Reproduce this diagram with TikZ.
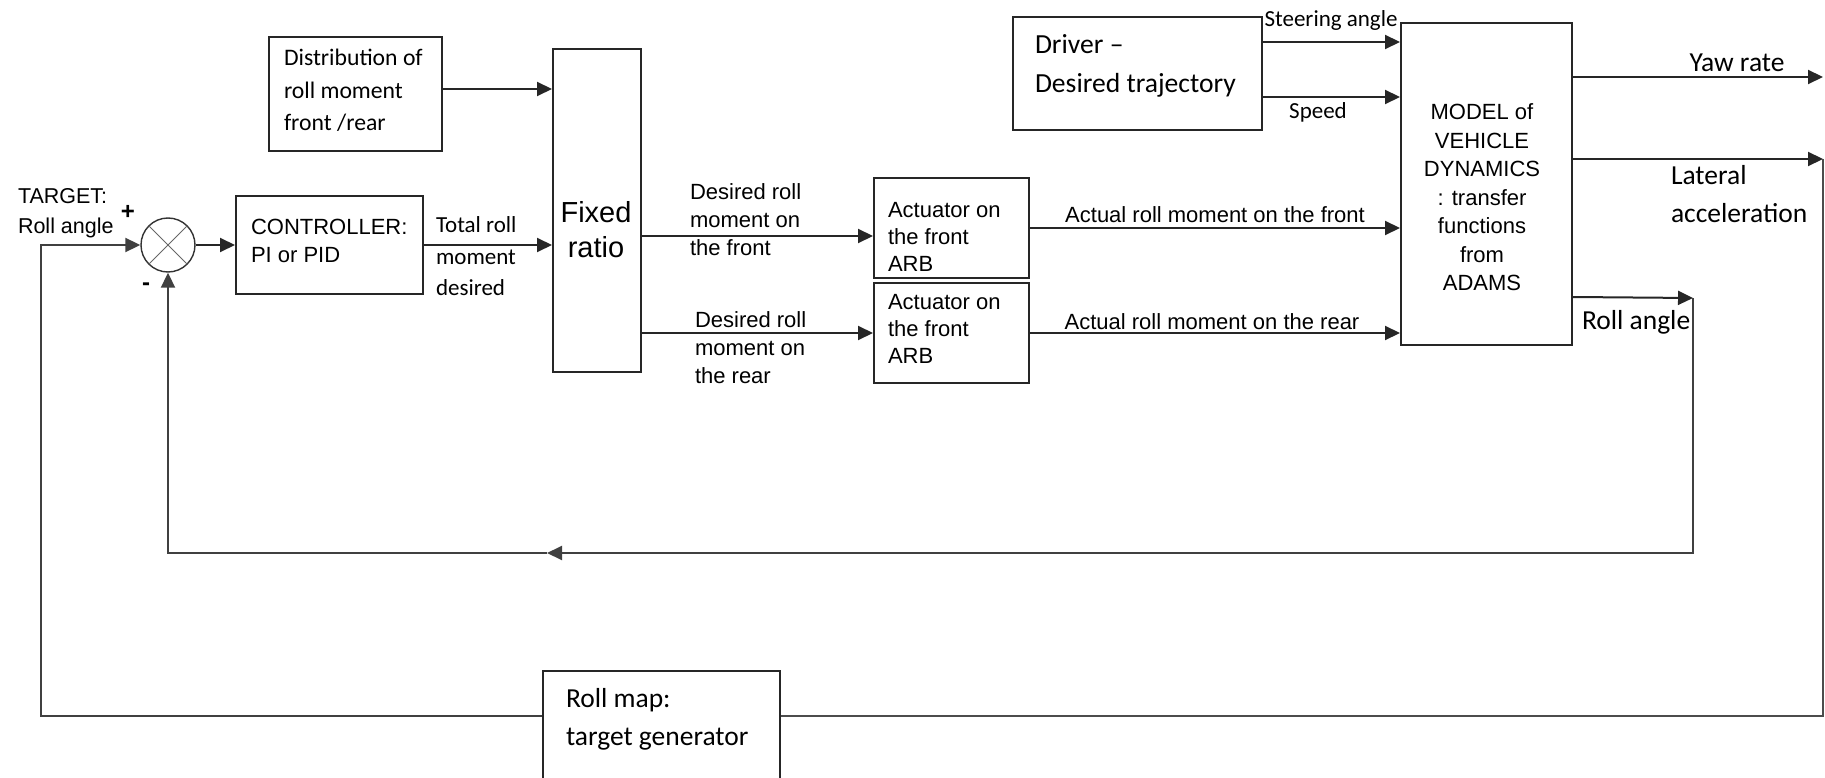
\documentclass[tikz,border=0pt]{standalone}
\usepackage{fontspec}
\setmainfont{Liberation Sans}
\newfontfamily\carlito{Carlito}
\usetikzlibrary{arrows.meta}

\begin{document}
\begin{tikzpicture}[x=1pt, y=-1pt, line width=2pt]
    \tikzstyle{block} = [shape=rectangle, draw=black!85, inner sep=0pt]
    \tikzstyle{txt}   = [align=left, inner sep=0pt, font=\fontsize{22}{28}\selectfont]
    \tikzstyle{ctxt}  = [align=left, inner sep=0pt, font=\carlito\fontsize{27.5}{38}\selectfont]
    \tikzstyle{arr}   = [draw=black!85, -{Triangle[length=15pt,width=14pt]}]
    \tikzstyle{wire}  = [draw=black!70]

    \useasboundingbox (0,0) rectangle (1825,778);

    \node[block, minimum width=173pt, minimum height=114pt] (dist)    at (355.5, 94)   {};
    \node[block, minimum width=187pt, minimum height=98pt]  (ctrl)    at (329.5, 245)  {};
    \node[block, minimum width=88pt,  minimum height=323pt] (fixed)   at (597,   210.5){};
    \node[block, minimum width=155pt, minimum height=100pt] (actf)    at (951.5, 228)  {};
    \node[block, minimum width=155pt, minimum height=100pt] (actr)    at (951.5, 333)  {};
    \node[block, minimum width=249pt, minimum height=113pt] (driver)  at (1137.5,73.5) {};
    \node[block, minimum width=171pt, minimum height=322pt] (model)   at (1486.5,184)  {};
    \node[block, minimum width=237pt, minimum height=119pt] (rollmap) at (661.5, 730.5){};
    \node[shape=circle, draw=black!80, line width=1.4pt, minimum size=54pt, inner sep=0pt] (sum) at (168, 245) {};
        \draw[black!60, line width=1pt] (sum.north west) -- (sum.south east) (sum.north east) -- (sum.south west);

    \node[txt, anchor=west, font=\fontsize{21.5}{30}\selectfont] (target) at (17, 213) {TARGET:\\Roll angle};
    \node[txt, font=\bfseries\fontsize{24}{24}\selectfont] (plus)  at (128, 212) {+};
    \node[txt, font=\bfseries\fontsize{24}{24}\selectfont] (minus) at (146, 287) {-};

    \node[ctxt, anchor=west, font=\carlito\fontsize{23.7}{32.5}\selectfont] (disttxt) at (283, 90.5) {Distribution of\\roll moment\\front /rear};
    \node[txt,  anchor=west] (ctrltxt) at (250, 241) {CONTROLLER:\\PI or PID};
    \node[ctxt, anchor=west, font=\carlito\fontsize{23}{31.5}\selectfont] (totlbl) at (435, 256.5) {Total roll\\moment\\desired};
    \node[txt,  align=center, font=\fontsize{29}{35}\selectfont] (fixedtxt) at (596, 229.5) {Fixed\\ratio};
    \node[txt,  anchor=west] (frontlbl) at (689, 220) {Desired roll\\moment on\\the front};
    \node[txt,  anchor=west] (rearlbl)  at (694, 348) {Desired roll\\moment on\\the rear};
    \node[txt,  anchor=west, font=\fontsize{22}{27}\selectfont] (actftxt) at (887, 237) {Actuator on\\the front\\ARB};
    \node[txt,  anchor=west, font=\fontsize{22}{27}\selectfont] (actrtxt) at (887, 329) {Actuator on\\the front\\ARB};
    \node[txt] (actflbl) at (1215, 215) {Actual roll moment on the front};
    \node[txt] (actrlbl) at (1212, 322) {Actual roll moment on the rear};
    \node[ctxt, anchor=west, font=\carlito\fontsize{27.6}{39}\selectfont] (drvtxt) at (1034, 65.5) {Driver –\\Desired trajectory};
    \node[ctxt, font=\carlito\fontsize{23}{23}\selectfont] (steerlbl) at (1331, 20)  {Steering angle};
    \node[ctxt, font=\carlito\fontsize{23}{23}\selectfont] (speedlbl) at (1318, 112) {Speed};
    \node[txt,  align=center, font=\fontsize{22}{28.5}\selectfont] (modeltxt) at (1482, 197.5) {MODEL of\\VEHICLE\\DYNAMICS\\: transfer\\functions\\from\\ADAMS};
    \node[ctxt] (yawlbl) at (1737, 63) {Yaw rate};
    \node[ctxt, anchor=west] (latlbl)  at (1670, 194) {Lateral\\acceleration};
    \node[ctxt, anchor=west] (rolllbl) at (1581, 322) {Roll angle};
    \node[ctxt, anchor=west] (maptxt)  at (565, 719)  {Roll map:\\target generator};

    \coordinate (distout) at ([yshift=5pt]dist.east);
    \coordinate (actfin)  at ([yshift=-8pt]actf.west);
    \coordinate (steerin) at ([yshift=-20pt]model.north west);
    \coordinate (speedin) at ([yshift=-75pt]model.north west);
    \coordinate (yawout)  at ([yshift=-55pt]model.north east);
    \coordinate (latout)  at ([yshift=-137pt]model.north east);
    \coordinate (rollout) at ([yshift=-275pt]model.north east);
    \coordinate (redge)   at (1823, 0);
    \coordinate (rolltip) at (1693, 298);
    \coordinate (fbr)     at (1693, 553);
    \coordinate (fbm)     at (547,  553);
    \coordinate (lbr)     at (1823, 716);
    \coordinate (lbl)     at (41,   716);

    \draw[arr] (distout) -- (distout -| fixed.west);
    \draw[arr] (sum.east) -- (ctrl.west);
    \draw[arr] (ctrl.east) -- (ctrl.east -| fixed.west);
    \draw[arr] (fixed.east |- actfin) -- (actfin);
    \draw[arr] (fixed.east |- actr.west) -- (actr.west);
    \draw[arr] (actf.east) -- (actf.east -| model.west);
    \draw[arr] (actr.east) -- (actr.east -| model.west);
    \draw[arr] (driver.east |- steerin) -- (steerin);
    \draw[arr] (driver.east |- speedin) -- (speedin);
    \draw[arr] (yawout) -- (yawout -| redge);
    \draw[arr] (latout) -- (latout -| redge);
    \draw[arr] (rollout) -- (rolltip);

    \draw[arr, draw=black!75] (rolltip) -- (fbr) -- (fbm);
    \draw[arr, draw=black!75] (fbm) -- (sum.south |- fbm) -- (sum.south);

    \draw[wire] (latout -| redge) -- (lbr) -- (lbr -| rollmap.east);
    \draw[arr, draw=black!75] (lbr -| rollmap.west) -- (lbl) -- (lbl |- sum.west) -- (sum.west);
\end{tikzpicture}
\end{document}
